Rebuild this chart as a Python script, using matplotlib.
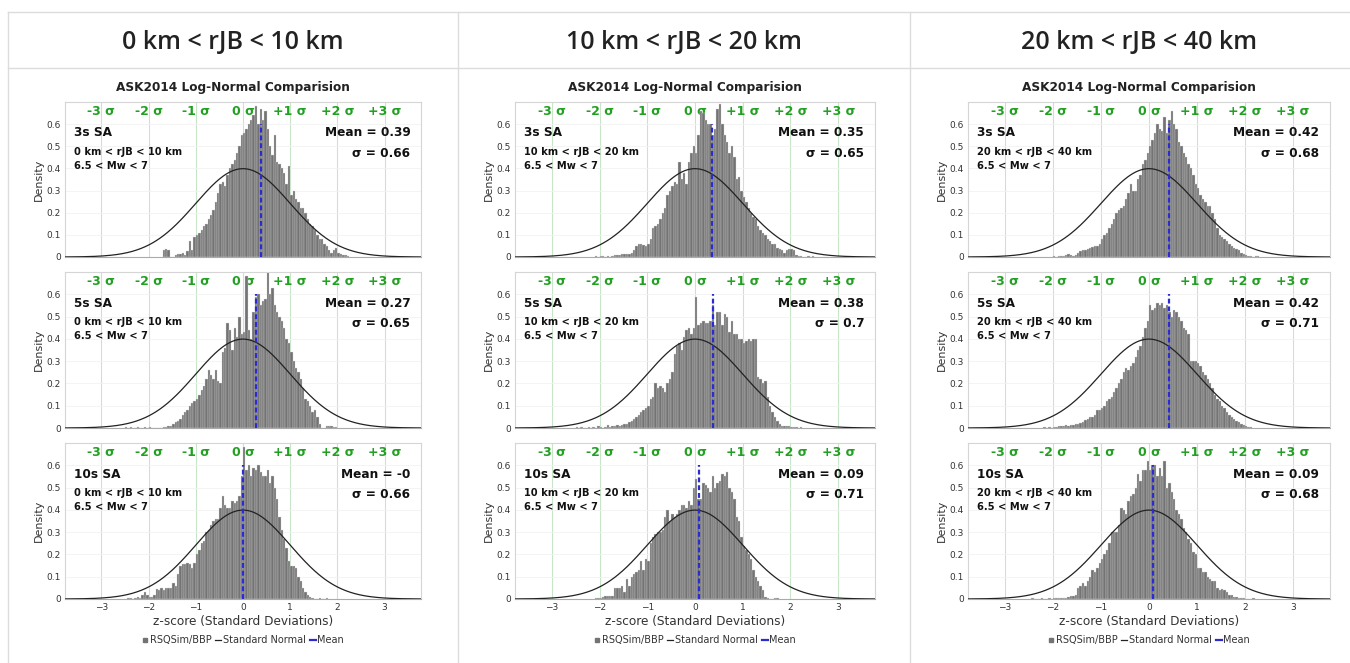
import numpy as np
import matplotlib.pyplot as plt
from matplotlib.lines import Line2D

# column headers / row labels
headers = ['0 km < rJB < 10 km', '10 km < rJB < 20 km', '20 km < rJB < 40 km']
rjb_labels = ['0 km < rJB < 10 km', '10 km < rJB < 20 km', '20 km < rJB < 40 km']
periods = ['3s SA', '5s SA', '10s SA']
means = [[0.39, 0.27, -0.0], [0.35, 0.38, 0.09], [0.42, 0.42, 0.09]]
sigmas = [[0.66, 0.65, 0.66], [0.65, 0.7, 0.71], [0.68, 0.71, 0.68]]
sigma_ticks = [-3, -2, -1, 0, 1, 2, 3]
sigma_labels = ['-3 σ', '-2 σ', '-1 σ', '0 σ', '+1 σ', '+2 σ', '+3 σ']
bin_w = 0.05

# histogram densities (bin width 0.05), first left edge + heights
start_c1_3s = -1.70
dens_c1_3s = [0.03, 0.035, 0.03, 0.0, 0.0, 0.01, 0.015, 0.015, 0.02, 0.01,
              0.025, 0.07, 0.03, 0.09, 0.10, 0.11, 0.12, 0.14, 0.15, 0.17,
              0.19, 0.21, 0.25, 0.29, 0.33, 0.34, 0.32, 0.37, 0.40, 0.42,
              0.44, 0.47, 0.50, 0.55, 0.56, 0.58, 0.60, 0.62, 0.64, 0.68,
              0.60, 0.67, 0.62, 0.66, 0.58, 0.50, 0.46, 0.55, 0.43, 0.42,
              0.40, 0.38, 0.33, 0.41, 0.28, 0.30, 0.26, 0.25, 0.22, 0.22,
              0.20, 0.17, 0.15, 0.14, 0.12, 0.10, 0.08, 0.08, 0.06, 0.05,
              0.03, 0.02, 0.03, 0.04, 0.02, 0.015, 0.01, 0.01, 0.005]
start_c1_5s = -2.50
dens_c1_5s = [0.005, 0.0, 0.005, 0.0, 0.0, 0.005, 0.0, 0.0, 0.005, 0.0,
              0.005, 0.0, 0.0, 0.0, 0.0, 0.0, 0.003, 0.005, 0.01, 0.01,
              0.02, 0.025, 0.03, 0.04, 0.06, 0.07, 0.08, 0.10, 0.11, 0.12,
              0.13, 0.15, 0.17, 0.19, 0.22, 0.26, 0.24, 0.22, 0.26, 0.21,
              0.20, 0.34, 0.36, 0.47, 0.44, 0.35, 0.45, 0.41, 0.50, 0.42,
              0.43, 0.68, 0.44, 0.40, 0.52, 0.59, 0.60, 0.55, 0.57, 0.58,
              0.70, 0.60, 0.63, 0.55, 0.52, 0.50, 0.48, 0.45, 0.40, 0.38,
              0.34, 0.30, 0.27, 0.25, 0.22, 0.18, 0.13, 0.12, 0.10, 0.07,
              0.08, 0.05, 0.02, 0.0, 0.0, 0.01, 0.01, 0.008, 0.005, 0.003]
start_c1_10s = -2.45
dens_c1_10s = [0.005, 0.005, 0.0, 0.005, 0.01, 0.005, 0.02, 0.03, 0.02, 0.01,
               0.01, 0.02, 0.045, 0.04, 0.05, 0.04, 0.05, 0.05, 0.05, 0.07,
               0.06, 0.11, 0.15, 0.155, 0.155, 0.16, 0.155, 0.14, 0.16, 0.20,
               0.22, 0.25, 0.26, 0.30, 0.31, 0.33, 0.35, 0.36, 0.36, 0.41,
               0.46, 0.42, 0.41, 0.41, 0.44, 0.43, 0.44, 0.46, 0.55, 0.68,
               0.58, 0.60, 0.55, 0.59, 0.58, 0.60, 0.57, 0.55, 0.55, 0.58,
               0.52, 0.55, 0.50, 0.45, 0.37, 0.31, 0.27, 0.23, 0.17, 0.15,
               0.15, 0.14, 0.10, 0.08, 0.05, 0.03, 0.02, 0.01, 0.005, 0.0,
               0.0, 0.003, 0.0, 0.0, 0.005]
start_c2_3s = -2.10
dens_c2_3s = [0.005, 0.0, 0.005, 0.003, 0.0, 0.005, 0.0, 0.005, 0.01, 0.008,
              0.01, 0.012, 0.015, 0.015, 0.012, 0.02, 0.03, 0.05, 0.06, 0.06,
              0.055, 0.05, 0.06, 0.08, 0.13, 0.14, 0.15, 0.17, 0.20, 0.22,
              0.28, 0.30, 0.32, 0.34, 0.33, 0.43, 0.35, 0.38, 0.33, 0.43,
              0.47, 0.50, 0.47, 0.55, 0.66, 0.65, 0.62, 0.60, 0.60, 0.55,
              0.58, 0.67, 0.69, 0.60, 0.55, 0.52, 0.47, 0.50, 0.45, 0.35,
              0.36, 0.30, 0.27, 0.25, 0.22, 0.20, 0.18, 0.17, 0.14, 0.12,
              0.11, 0.10, 0.08, 0.07, 0.06, 0.06, 0.04, 0.035, 0.03, 0.02,
              0.03, 0.035, 0.035, 0.03, 0.01, 0.005, 0.003, 0.0, 0.0, 0.003,
              0.0, 0.005]
start_c2_5s = -2.50
dens_c2_5s = [0.003, 0.0, 0.005, 0.0, 0.0, 0.005, 0.0, 0.005, 0.0, 0.01,
              0.005, 0.0, 0.005, 0.015, 0.005, 0.01, 0.01, 0.012, 0.01, 0.015,
              0.02, 0.02, 0.025, 0.03, 0.04, 0.05, 0.06, 0.07, 0.08, 0.09,
              0.10, 0.13, 0.14, 0.20, 0.18, 0.19, 0.18, 0.16, 0.20, 0.22,
              0.25, 0.33, 0.37, 0.38, 0.35, 0.41, 0.44, 0.45, 0.42, 0.45,
              0.59, 0.46, 0.47, 0.48, 0.47, 0.47, 0.48, 0.55, 0.46, 0.52,
              0.52, 0.46, 0.51, 0.50, 0.43, 0.48, 0.42, 0.42, 0.40, 0.40,
              0.38, 0.39, 0.40, 0.39, 0.40, 0.40, 0.23, 0.22, 0.20, 0.21,
              0.14, 0.10, 0.07, 0.05, 0.03, 0.02, 0.01, 0.01, 0.008, 0.01,
              0.005, 0.005, 0.003, 0.0, 0.003]
start_c2_10s = -2.10
dens_c2_10s = [0.003, 0.005, 0.005, 0.01, 0.012, 0.012, 0.015, 0.015, 0.05, 0.05,
               0.05, 0.06, 0.03, 0.09, 0.06, 0.10, 0.11, 0.12, 0.13, 0.17,
               0.13, 0.18, 0.17, 0.25, 0.28, 0.29, 0.30, 0.30, 0.31, 0.37,
               0.40, 0.35, 0.38, 0.37, 0.38, 0.40, 0.42, 0.42, 0.41, 0.44,
               0.42, 0.50, 0.54, 0.45, 0.45, 0.52, 0.51, 0.50, 0.48, 0.55,
               0.50, 0.52, 0.53, 0.56, 0.55, 0.57, 0.50, 0.48, 0.45, 0.37,
               0.35, 0.28, 0.24, 0.22, 0.20, 0.18, 0.13, 0.10, 0.08, 0.06,
               0.04, 0.01, 0.005, 0.0, 0.0, 0.003, 0.003]
start_c3_3s = -2.00
dens_c3_3s = [0.003, 0.0, 0.003, 0.003, 0.005, 0.01, 0.012, 0.01, 0.005, 0.01,
              0.02, 0.025, 0.03, 0.03, 0.035, 0.04, 0.045, 0.05, 0.05, 0.06,
              0.08, 0.10, 0.11, 0.13, 0.15, 0.17, 0.20, 0.21, 0.22, 0.23,
              0.26, 0.29, 0.33, 0.30, 0.30, 0.35, 0.37, 0.42, 0.44, 0.47,
              0.50, 0.53, 0.56, 0.60, 0.58, 0.57, 0.63, 0.56, 0.62, 0.66,
              0.60, 0.58, 0.52, 0.50, 0.47, 0.45, 0.42, 0.40, 0.37, 0.33,
              0.31, 0.28, 0.26, 0.25, 0.23, 0.23, 0.20, 0.17, 0.13, 0.10,
              0.09, 0.08, 0.07, 0.06, 0.05, 0.04, 0.035, 0.03, 0.02, 0.015,
              0.01, 0.005, 0.003, 0.0, 0.003, 0.003]
start_c3_5s = -2.20
dens_c3_5s = [0.003, 0.0, 0.003, 0.0, 0.003, 0.005, 0.008, 0.01, 0.01, 0.012,
              0.01, 0.012, 0.015, 0.02, 0.02, 0.022, 0.025, 0.035, 0.04, 0.05,
              0.05, 0.06, 0.08, 0.08, 0.09, 0.10, 0.12, 0.13, 0.14, 0.16,
              0.18, 0.20, 0.22, 0.25, 0.27, 0.26, 0.28, 0.29, 0.32, 0.35,
              0.37, 0.41, 0.45, 0.48, 0.55, 0.53, 0.54, 0.56, 0.55, 0.56,
              0.54, 0.55, 0.52, 0.50, 0.53, 0.52, 0.50, 0.48, 0.45, 0.44,
              0.42, 0.30, 0.30, 0.30, 0.29, 0.28, 0.25, 0.24, 0.22, 0.20,
              0.18, 0.15, 0.13, 0.12, 0.10, 0.09, 0.07, 0.06, 0.05, 0.04,
              0.03, 0.025, 0.02, 0.015, 0.01, 0.005, 0.003]
start_c3_10s = -2.45
dens_c3_10s = [0.003, 0.0, 0.002, 0.0, 0.003, 0.0, 0.002, 0.003, 0.0, 0.003,
               0.003, 0.004, 0.004, 0.005, 0.005, 0.01, 0.015, 0.015, 0.02, 0.05,
               0.06, 0.07, 0.06, 0.08, 0.10, 0.13, 0.12, 0.14, 0.16, 0.18,
               0.20, 0.22, 0.25, 0.30, 0.30, 0.30, 0.33, 0.41, 0.40, 0.38,
               0.44, 0.46, 0.47, 0.50, 0.56, 0.53, 0.58, 0.58, 0.62, 0.58,
               0.60, 0.60, 0.55, 0.59, 0.55, 0.62, 0.50, 0.52, 0.48, 0.45,
               0.40, 0.38, 0.36, 0.32, 0.30, 0.27, 0.25, 0.21, 0.20, 0.14,
               0.14, 0.12, 0.12, 0.10, 0.09, 0.08, 0.08, 0.05, 0.04, 0.045,
               0.04, 0.03, 0.02, 0.02, 0.01, 0.01, 0.005, 0.005, 0.003, 0.002,
               0.002, 0.002, 0.003]

starts = [[start_c1_3s, start_c1_5s, start_c1_10s],
          [start_c2_3s, start_c2_5s, start_c2_10s],
          [start_c3_3s, start_c3_5s, start_c3_10s]]
dens = [[dens_c1_3s, dens_c1_5s, dens_c1_10s],
        [dens_c2_3s, dens_c2_5s, dens_c2_10s],
        [dens_c3_3s, dens_c3_5s, dens_c3_10s]]

W, H = 1350, 663
fig = plt.figure(figsize=(W / 100, H / 100), dpi=100)


def box(x0, y0, x1, y1):
    # pixel box (top-left origin) -> figure fraction
    return [x0 / W, 1 - y1 / H, (x1 - x0) / W, (y1 - y0) / H]


# table lines
lc = '#dcdcdc'
fig.add_artist(Line2D([8 / W, 1.0], [1 - 12 / H] * 2, color=lc, lw=1))
fig.add_artist(Line2D([8 / W, 1.0], [1 - 68 / H] * 2, color=lc, lw=1))
for xp in [8, 458, 910]:
    fig.add_artist(Line2D([xp / W] * 2, [0, 1 - 12 / H], color=lc, lw=1))

col_x = [(65, 421), (515, 875), (968, 1330)]
row_y = [(102, 257), (272, 428), (443, 599)]
head_cx = [233, 684, 1139]

xs = np.linspace(-3.77, 3.77, 400)
norm_pdf = np.exp(-xs ** 2 / 2) / np.sqrt(2 * np.pi)

for c in range(3):
    fig.text(head_cx[c] / W, 1 - 42 / H, headers[c], ha='center', va='center',
             fontsize=18, family='Open Sans', fontweight='semibold', color='#222222')
    x0, x1 = col_x[c]
    fig.text((x0 + x1) / 2 / W - 10 / W, 1 - 88 / H, 'ASK2014 Log-Normal Comparision',
             ha='center', va='center', fontsize=8.7, fontweight='bold', color='#222222')
    for r in range(3):
        y0, y1 = row_y[r]
        ax = fig.add_axes(box(x0, y0, x1, y1))
        h = dens[c][r]
        edges = starts[c][r] + bin_w * np.arange(len(h))
        ax.bar(edges, h, width=bin_w, align='edge', color='#737373',
               edgecolor='#d8d8d8', linewidth=0.25, zorder=2)
        ax.plot(xs, norm_pdf, color='#222222', lw=0.9, zorder=3)
        ax.vlines(means[c][r], 0, 0.6, colors='#2b2bd6', linestyles=(0, (2.2, 1.3)),
                  lw=1.6, zorder=4)
        ax.set_xlim(-3.77, 3.77)
        ax.set_ylim(0, 0.7)
        ax.set_xticks(sigma_ticks)
        ax.set_yticks([0, 0.1, 0.2, 0.3, 0.4, 0.5, 0.6])
        ax.set_yticklabels(['0', '0.1', '0.2', '0.3', '0.4', '0.5', '0.6'])
        ax.grid(axis='x', color='#c9e5c9', lw=0.8, zorder=0)
        ax.grid(axis='y', color='#f3f3f3', lw=0.6, zorder=0)
        ax.set_axisbelow(True)
        ax.tick_params(length=0, labelsize=6.5, colors='#333333', pad=3)
        for s in ax.spines.values():
            s.set_color('#d5d5d5')
            s.set_linewidth(0.8)
        ax.spines['bottom'].set_color('#aaaaaa')
        ax.set_ylabel('Density', fontsize=8, color='#333333', labelpad=2)
        for t, lab in zip(sigma_ticks, sigma_labels):
            ax.text(t, 0.94, lab, transform=ax.get_xaxis_transform(), ha='center',
                    va='center', fontsize=9, fontweight='bold', color='#22a022', zorder=1)
        ax.text(0.025, 0.80, periods[r], transform=ax.transAxes, fontsize=8.7,
                fontweight='bold', va='center', color='#111111', zorder=5)
        ax.text(0.025, 0.68, rjb_labels[c], transform=ax.transAxes,
                fontsize=7.1, fontweight='bold', va='center', color='#111111', zorder=5)
        ax.text(0.025, 0.59, '6.5 < Mw < 7', transform=ax.transAxes, fontsize=7.1,
                fontweight='bold', va='center', color='#111111', zorder=5)
        ax.text(0.97, 0.80, f'Mean = {means[c][r]:g}', transform=ax.transAxes,
                fontsize=8.7, fontweight='bold', va='center', ha='right',
                color='#111111', zorder=5)
        ax.text(0.97, 0.67, f'σ = {sigmas[c][r]:g}', transform=ax.transAxes,
                fontsize=8.7, fontweight='bold', va='center', ha='right',
                color='#111111', zorder=5)
        if r < 2:
            ax.set_xticklabels([])
        else:
            ax.set_xlabel('z-score (Standard Deviations)', fontsize=8.7,
                          color='#333333', labelpad=2)
            handles = [Line2D([], [], marker='s', ls='', color='#737373', ms=2.5),
                       Line2D([], [], color='#222222', lw=0.9),
                       Line2D([], [], color='#2b2bd6', lw=1.6)]
            leg = ax.legend(handles, ['RSQSim/BBP', 'Standard Normal', 'Mean'],
                            loc='upper center', bbox_to_anchor=(0.5, -0.2),
                            ncol=3, frameon=False, fontsize=7, handlelength=0.6,
                            handletextpad=0.2, columnspacing=0.4, borderpad=0)
            for tx in leg.get_texts():
                tx.set_color('#333333')

fig.savefig('out.png', dpi=100, facecolor='white')
